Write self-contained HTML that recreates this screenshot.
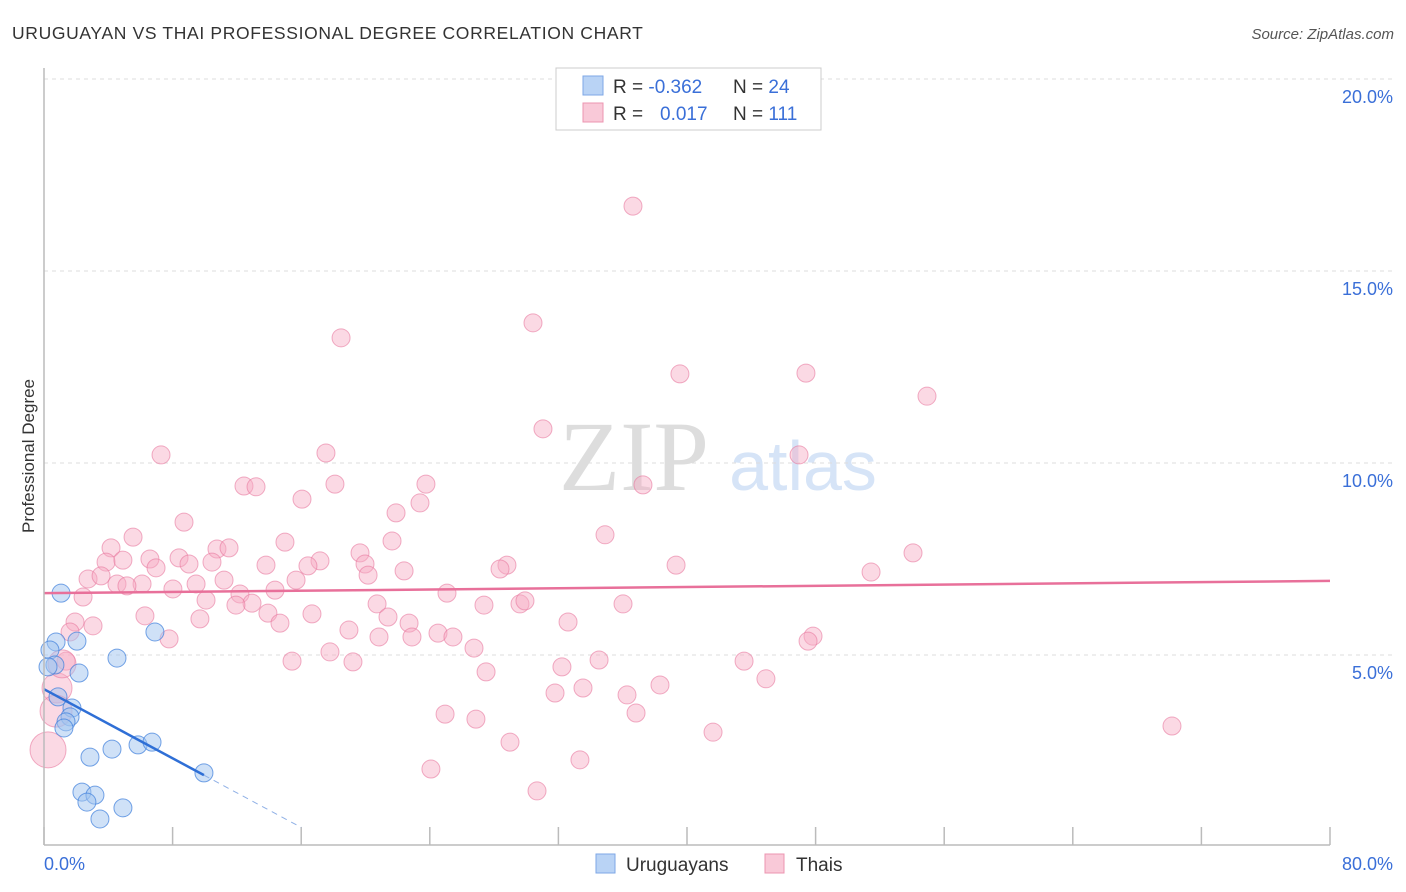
<!DOCTYPE html>
<html><head><meta charset="utf-8"><style>
body{margin:0;background:#fff;font-family:"Liberation Sans",sans-serif;}
#wrap{position:relative;width:1406px;height:892px;overflow:hidden;}
svg text{font-family:"Liberation Sans",sans-serif;}
</style></head><body>
<div id="wrap">
<svg id="svg" width="1406" height="892">
<text x="12" y="39" font-size="17.5" fill="#333" letter-spacing="0.65">URUGUAYAN VS THAI PROFESSIONAL DEGREE CORRELATION CHART</text>
<text x="1394" y="39" font-size="15" fill="#555" font-style="italic" text-anchor="end">Source: ZipAtlas.com</text>
<text x="634" y="490" font-size="100" fill="#ddd" text-anchor="middle" style="font-family:'Liberation Serif',serif">ZIP</text>
<text x="803" y="490" font-size="70" fill="#d6e4f7" text-anchor="middle">atlas</text>
<text transform="translate(34,456) rotate(-90)" font-size="17" fill="#333" text-anchor="middle">Professional Degree</text>
<g id="grid"></g><g id="pts"></g><g id="trend"></g>
<line x1="44" y1="68" x2="44" y2="845" stroke="#bbb" stroke-width="1.5"/>
<line x1="44" y1="845" x2="1330" y2="845" stroke="#bbb" stroke-width="1.5"/>
<text x="44" y="870" font-size="18" fill="#3a6fd8">0.0%</text>
<text x="1393" y="870" font-size="18" fill="#3a6fd8" text-anchor="end">80.0%</text>
<g>
<rect x="556" y="68" width="265" height="62" fill="#fff" stroke="#ccc"/>
<rect x="583" y="76" width="20" height="19" fill="#b9d3f5" stroke="#7ea7e6"/>
<rect x="583" y="103" width="20" height="19" fill="#f9c9d8" stroke="#ec95b0"/>
<text x="613" y="93" font-size="19" fill="#333">R = <tspan fill="#3a6fd8">-0.362</tspan></text>
<text x="733" y="93" font-size="19" fill="#333">N = <tspan fill="#3a6fd8">24</tspan></text>
<text x="613" y="120" font-size="19" fill="#333">R = <tspan fill="#3a6fd8" x="660">0.017</tspan></text>
<text x="733" y="120" font-size="19" fill="#333">N = <tspan fill="#3a6fd8">111</tspan></text>
</g>
<g><rect x="596" y="854" width="19" height="19" fill="#b9d3f5" stroke="#7ea7e6"/><text x="626" y="871" font-size="19" fill="#333">Uruguayans</text></g>
<g><rect x="765" y="854" width="19" height="19" fill="#f9c9d8" stroke="#ec95b0"/><text x="796" y="871" font-size="19" fill="#333">Thais</text></g>
</svg></div>
<script>
const yTicks=[5,10,15,20];
const yTickLabels=["5.0%","10.0%","15.0%","20.0%"];
const xTicks=[0,8,16,24,32,40,48,56,64,72,80];
const blueX=[1.06,6.9,0.75,2.05,0.37,0.68,0.25,2.18,4.54,0.87,1.74,1.62,1.37,1.24,2.86,4.23,5.85,6.72,9.95,2.36,3.17,2.67,3.48,4.91];
const blueY=[6.61,5.6,5.34,5.36,5.13,4.74,4.69,4.53,4.92,3.91,3.62,3.39,3.26,3.10,2.34,2.55,2.66,2.73,1.93,1.43,1.35,1.17,0.73,1.02];
const pinkX=[36.64,30.42,18.48,39.56,47.40,54.93,31.04,7.28,17.54,46.97,12.44,13.19,18.10,23.76,37.26,16.05,23.39,21.90,8.71,5.54,34.90,14.99,21.65,10.76,11.51,4.17,54.06,6.59,8.40,19.66,3.86,4.91,17.17,13.81,28.80,39.32,28.37,16.42,10.45,6.97,9.02,19.97,51.45,22.40,20.16,2.74,3.55,11.20,15.68,4.54,6.10,5.16,9.46,8.02,12.19,14.37,25.07,10.08,2.43,12.94,11.94,20.72,27.37,29.61,29.92,36.02,6.28,13.93,16.67,9.70,21.40,22.71,32.60,14.68,1.93,3.05,1.62,18.97,7.78,20.84,22.89,24.51,25.44,47.84,47.53,26.75,17.79,15.43,19.22,34.53,43.55,32.22,27.50,1.37,44.91,38.32,31.79,33.53,36.27,24.95,36.83,26.87,70.17,41.62,28.99,33.34,24.07,30.67,0.25,0.81,1.12,0.75];
const pinkY=[16.69,13.65,13.26,12.32,12.34,11.74,10.89,10.21,10.26,10.21,9.40,9.38,9.45,9.45,9.43,9.06,8.96,8.70,8.46,8.07,8.13,7.94,7.97,7.76,7.79,7.79,7.66,7.50,7.53,7.66,7.42,7.47,7.45,7.34,7.34,7.34,7.24,7.32,7.42,7.27,7.37,7.37,7.16,7.19,7.08,6.98,7.06,6.95,6.95,6.85,6.85,6.80,6.85,6.72,6.59,6.69,6.61,6.43,6.51,6.35,6.30,6.33,6.30,6.33,6.41,6.33,6.02,6.09,6.07,5.94,5.99,5.83,5.86,5.83,5.86,5.76,5.60,5.65,5.42,5.47,5.47,5.57,5.47,5.49,5.36,5.18,5.08,4.84,4.82,4.87,4.84,4.69,4.56,4.84,4.38,4.22,4.01,4.14,3.96,3.46,3.49,3.33,3.15,2.99,2.73,2.27,2.03,1.46,2.53,4.14,4.77,3.54];
const pinkR=pinkY.map((v,i)=>i>=pinkY.length-4?[18,15,14,16][i-(pinkY.length-4)]:9);
const blueTrend=[4.11,-0.225];
const pinkTrend=[6.61,0.004];
const sx=v=>44+v*16.075, sy=v=>847-v*38.4;
const NS='http://www.w3.org/2000/svg';
function mk(t,a,p){const e=document.createElementNS(NS,t);for(const k in a)e.setAttribute(k,a[k]);p.appendChild(e);return e;}
const grid=document.getElementById('grid'),pts=document.getElementById('pts'),tr=document.getElementById('trend'),svg=document.getElementById('svg');
yTicks.forEach((t,i)=>{
 const l=mk('line',{x1:44,x2:1393,y1:sy(t),y2:sy(t),stroke:'#ddd','stroke-dasharray':'4,4'},grid);
 
 
 const tx=mk('text',{x:1393,y:sy(t)+24,'font-size':18,fill:'#3a6fd8','text-anchor':'end'},svg);
 tx.textContent=yTickLabels[i];
 
 
});
xTicks.forEach(t=>{
 const l=mk('line',{x1:sx(t),x2:sx(t),y1:827,y2:845,stroke:'#bbb','stroke-width':1.5},grid);
 
 
});
pinkX.forEach((x,i)=>{
 const c=mk('circle',{cx:sx(x),cy:sy(pinkY[i]),r:pinkR[i],fill:'rgba(246,170,196,0.45)',stroke:'rgba(232,120,158,0.6)','stroke-width':1},pts);
 
 
});
blueX.forEach((x,i)=>{
 const c=mk('circle',{cx:sx(x),cy:sy(blueY[i]),r:9,fill:'rgba(160,196,240,0.5)',stroke:'rgba(60,125,220,0.7)','stroke-width':1},pts);
 
 
});
const pl=mk('line',{x1:sx(0),y1:sy(pinkTrend[0]),x2:sx(80),y2:sy(pinkTrend[0]+80*pinkTrend[1]),stroke:'#e8709a','stroke-width':2.5},tr);


const bl=mk('line',{x1:sx(0),y1:sy(blueTrend[0]),x2:sx(9.95),y2:sy(blueTrend[0]+9.95*blueTrend[1]),stroke:'#2f6fd6','stroke-width':2.5},tr);


const bd=mk('line',{x1:sx(9.95),y1:sy(blueTrend[0]+9.95*blueTrend[1]),x2:sx(16),y2:sy(blueTrend[0]+16*blueTrend[1]),stroke:'#8fb0e6','stroke-width':1,'stroke-dasharray':'6,5'},tr);


</script></body></html>
